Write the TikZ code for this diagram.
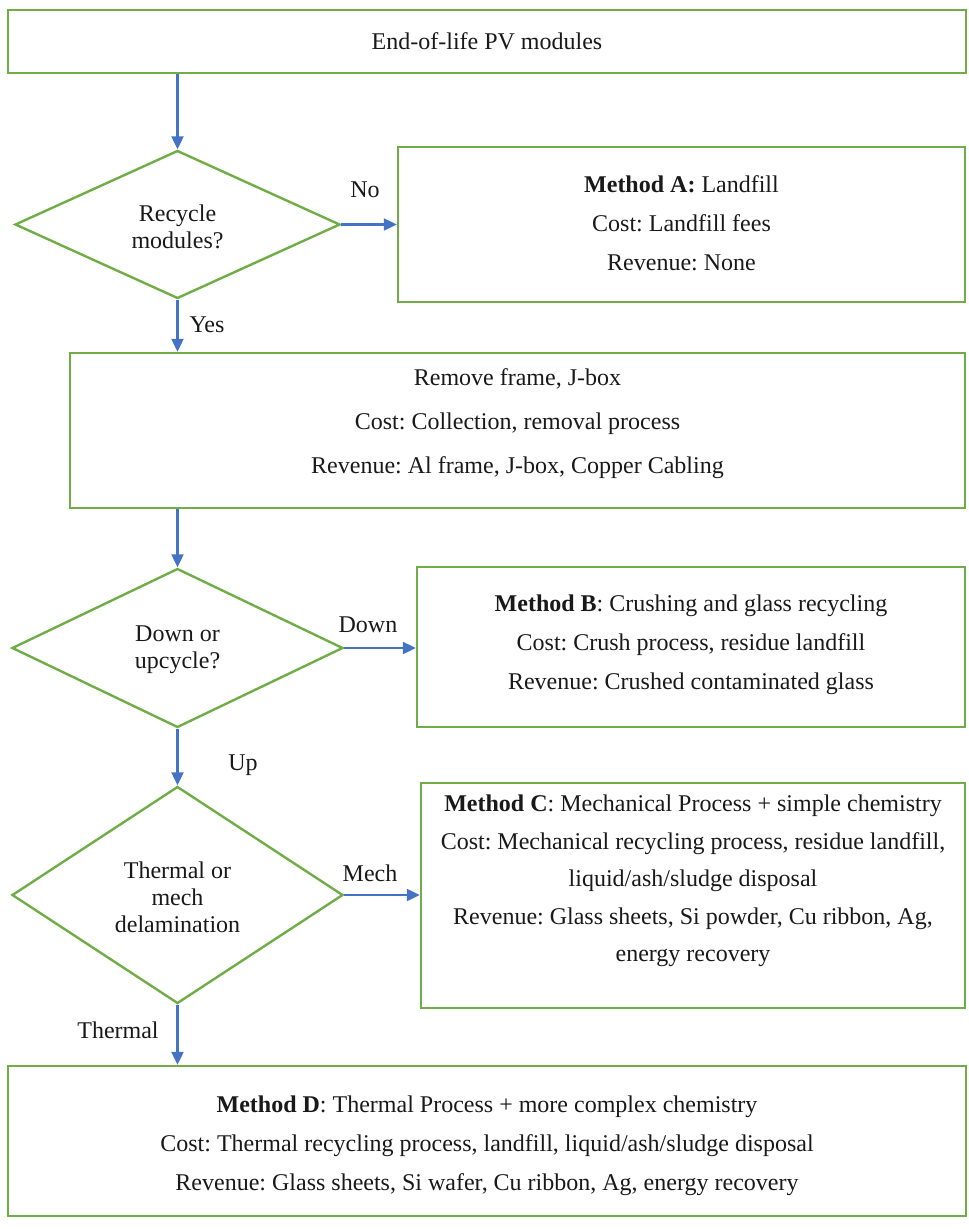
\documentclass[tikz,border=0pt]{standalone}
\usepackage{fontspec}
\setmainfont{Liberation Serif}
\frenchspacing
\usetikzlibrary{shapes.geometric,arrows.meta}
\definecolor{boxgreen}{HTML}{70AD47}
\definecolor{arrblue}{HTML}{4472C4}
\begin{document}
\begin{tikzpicture}[x=1pt,y=-1pt,
  every node/.style={font=\fontsize{24pt}{28pt}\selectfont, text=black!90},
  box/.style={draw=boxgreen, line width=2.4pt, rectangle, inner sep=0pt, align=center},
  dia/.style={draw=boxgreen, line width=2.4pt, diamond, inner sep=0pt},
  dtext/.style={align=center, font=\fontsize{24pt}{27pt}\selectfont},
  btext/.style={align=center, font=\fontsize{24pt}{39pt}\selectfont},
  lab/.style={inner sep=0pt},
  arr/.style={draw=arrblue, line width=2.2pt, -{Triangle[length=13pt,width=12pt]}}
]
\useasboundingbox (0,0) rectangle (969,1229);

% boxes
\node[box, minimum width=958pt, minimum height=63pt] (top) at (487,41.5) {End-of-life PV modules};
\node[dia, minimum width=325pt, minimum height=148pt] (d1) at (177.5,224.5) {};
\node[dtext] (d1t) at (177.5,226.5) {Recycle\\modules?};
\node[box, minimum width=567pt, minimum height=155pt] (A) at (681.5,224.5) {};
\node[btext] (At) at (681.5,223) {\textbf{Method A:} Landfill\\Cost: Landfill fees\\Revenue: None};

\node[box, minimum width=895pt, minimum height=155pt] (R) at (517.5,430.5) {};
\node[align=center, font=\fontsize{24pt}{44pt}\selectfont] (Rt) at (517.5,424) {Remove frame, J-box\\Cost: Collection, removal process\\Revenue: Al frame, J-box, Copper Cabling};

\node[dia, minimum width=331pt, minimum height=159pt] (d2) at (177.5,648) {};
\node[dtext] (d2t) at (177.5,650) {Down or\\upcycle?};
\node[box, minimum width=548pt, minimum height=160pt] (B) at (691,647) {};
\node[btext] (Bt) at (691,645) {\textbf{Method B}: Crushing and glass recycling\\Cost: Crush process, residue landfill\\Revenue: Crushed contaminated glass};

\node[dia, minimum width=331pt, minimum height=217pt] (d3) at (177.5,895) {};
\node[dtext] (d3t) at (177.5,897) {Thermal or\\mech\\delamination};
\node[box, minimum width=544pt, minimum height=225pt] (C) at (693,895.5) {};
\node[align=center, font=\fontsize{24pt}{37.5pt}\selectfont] (Ct) at (693,881) {\textbf{Method C}: Mechanical Process + simple chemistry\\Cost: Mechanical recycling process, residue landfill,\\liquid/ash/sludge disposal\\Revenue: Glass sheets, Si powder, Cu ribbon, Ag,\\energy recovery};

\node[box, minimum width=958pt, minimum height=150pt] (D) at (487,1141) {};
\node[btext] (Dt) at (487,1146) {\textbf{Method D}: Thermal Process + more complex chemistry\\Cost: Thermal recycling process, landfill, liquid/ash/sludge disposal\\Revenue: Glass sheets, Si wafer, Cu ribbon, Ag, energy recovery};

% connectors
\draw[arr] (d1.north |- top.south) -- (d1.north);
\draw[arr] (d1.east) -- (d1.east -| A.west);
\draw[arr] (d1.south) -- (d1.south |- R.north);
\draw[arr] (d2.north |- R.south) -- (d2.north);
\draw[arr] (d2.east) -- (d2.east -| B.west);
\draw[arr] (d2.south) -- (d3.north);
\draw[arr] (d3.east) -- (d3.east -| C.west);
\draw[arr] (d3.south) -- (d3.south |- D.north);

% labels
\node[lab] (lno) at (365,190) {No};
\node[lab] (lyes) at (207,325) {Yes};
\node[lab] (ldown) at (368,625) {Down};
\node[lab] (lup) at (243,765) {Up};
\node[lab] (lmech) at (370,873) {Mech};
\node[lab] (lthermal) at (118,1030) {Thermal};
\end{tikzpicture}
\end{document}
